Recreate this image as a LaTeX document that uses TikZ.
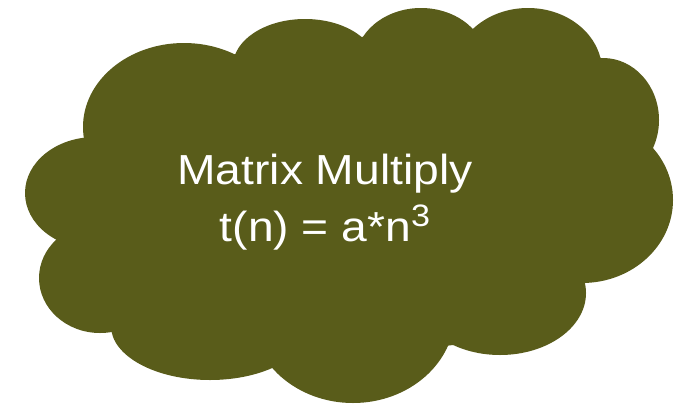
\documentclass[tikz,border=0pt]{standalone}
\usepackage{fontspec}
\newfontfamily\cloudfont{Liberation Sans}
\definecolor{cloudolive}{RGB}{89,92,26}

\begin{document}
\begin{tikzpicture}[x=1pt, y=-1pt, every node/.style={font=\cloudfont\fontsize{42}{57}\selectfont}]
\tikzstyle{lobe}=[fill=cloudolive]
\useasboundingbox (0,0) rectangle (682,405);
% puffs of the cloud, then its body
\foreach \cx/\cy/\rx/\ry in {184/127/101/84, 305/66/72/47, 421/63/66/55, 528/71/74/63,
  603/120/56/62, 582/200/91/83, 500/293/86/62, 353/313/102/90, 210/326/99/54,
  100/278/61/55, 95/193/70/56}
  \fill[lobe] (\cx,\cy) ellipse [x radius=\rx, y radius=\ry];
\fill[lobe] (84,139) -- (235,54) -- (362,37) -- (473,29) -- (600,57) -- (653,148)
  -- (585,283) -- (453,345) -- (272,368) -- (112,332) -- (57,241) -- cycle;
\node[text=white, align=center, inner sep=0pt] (mm) at (325,202)
  {\scalebox{1.1}[1]{Matrix Multiply}\\
   \scalebox{1.1}[1]{t(n) = a*n\raisebox{0.36em}{\fontsize{31}{31}\selectfont 3}}};
\end{tikzpicture}
\end{document}
